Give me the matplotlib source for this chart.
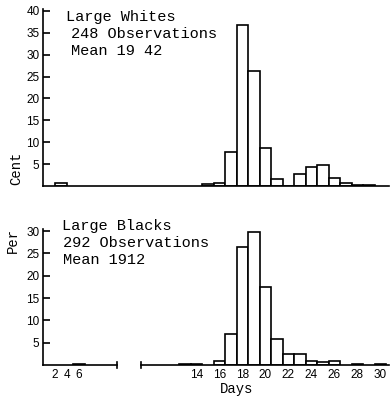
import numpy as np
import matplotlib
matplotlib.use("Agg")
import matplotlib.pyplot as plt
import matplotlib.transforms as mtransforms

# ---------------- data ----------------
top_days = [3, 15, 16, 17, 18, 19, 20, 21, 22, 23, 24, 25, 26, 27, 28, 29]
top_pct = [0.6, 0.4, 0.7, 7.8, 36.8, 26.3, 8.7, 1.7, 0.0, 2.7, 4.3, 4.9, 1.9, 0.6, 0.3, 0.3]

bot_days = [6, 13, 14, 16, 17, 18, 19, 20, 21, 22, 23, 24, 25, 26, 28, 30]
bot_pct = [0.3, 0.3, 0.3, 1.0, 7.0, 26.5, 29.7, 17.5, 5.9, 2.4, 2.4, 1.0, 0.7, 1.0, 0.3, 0.3]

top_title = ["Large Whites", "248 Observations", "Mean 19 42"]
bot_title = ["Large Blacks", "292 Observations", "Mean 1912"]

top_yticks = [5, 10, 15, 20, 25, 30, 35, 40]
bot_yticks = [5, 10, 15, 20, 25, 30]
bot_xticks = [2, 4, 6, 14, 16, 18, 20, 22, 24, 26, 28, 30]
# --------------------------------------

W, H = 390, 396
fig = plt.figure(figsize=(W / 100, H / 100), dpi=100)

# broken day axis: compressed start, gap, then full scale
_bd = [0, 8, 9.3, 40]
_bp = [0, 48, 99.2, 452.2]
fwd = lambda d: np.interp(d, _bd, _bp)
inv = lambda p: np.interp(p, _bp, _bd)

def px_axes(x0, x1, y_top, y_bot):
    return fig.add_axes([x0 / W, 1 - y_bot / H, (x1 - x0) / W, (y_bot - y_top) / H])

mono = "Liberation Mono"
sans = "Liberation Sans"
lw = 1.2

def style(ax, ymax, yticks):
    ax.set_xscale("function", functions=(fwd, inv))
    ax.set_xlim(0, 30.75)
    ax.set_ylim(0, ymax)
    for s in ["top", "right"]:
        ax.spines[s].set_visible(False)
    for s in ["left", "bottom"]:
        ax.spines[s].set_linewidth(lw)
    ax.set_yticks(yticks)
    ax.set_yticklabels([str(t) for t in yticks], fontfamily=sans, fontsize=8.5)
    ax.tick_params(axis="y", direction="in", length=5, width=lw, pad=2.5)
    ax.set_facecolor("none")

def widths(days):
    return [2.0 if d < 9 else 1.0 for d in days]

# top panel
ax1 = px_axes(43, 389, 9, 186)
style(ax1, 40.45, top_yticks)
ax1.bar(top_days, top_pct, width=widths(top_days), color="white",
        edgecolor="black", linewidth=lw)
ax1.set_xticks([])

# bottom panel
ax2 = px_axes(43, 389, 229, 365)
style(ax2, 30.45, bot_yticks)
ax2.bar(bot_days, bot_pct, width=widths(bot_days), color="white",
        edgecolor="black", linewidth=lw)
ax2.spines["bottom"].set_visible(False)
ax2.set_xticks(bot_xticks)
ax2.set_xticklabels([str(t) for t in bot_xticks], fontfamily=sans, fontsize=8.5)
ax2.tick_params(axis="x", length=0, pad=3)

# broken baseline
trans = mtransforms.blended_transform_factory(ax2.transData, ax2.transAxes)
brk_l, brk_r = inv(74), inv(98)
ax2.plot([0, brk_l], [0, 0], color="black", lw=lw, transform=trans, clip_on=False)
ax2.plot([brk_r, 30.75], [0, 0], color="black", lw=lw, transform=trans, clip_on=False)
off = mtransforms.ScaledTranslation(0, 0, fig.dpi_scale_trans)
for b in (brk_l, brk_r):
    ax2.plot([b, b], [-0.025, 0.025], color="black", lw=lw, transform=trans,
             clip_on=False)

# annotations
def ftext(x, y, s, **kw):
    fig.text(x / W, 1 - y / H, s, **kw)

for (x, y), s in zip([(66, 17), (71, 34), (71, 51)], top_title):
    ftext(x, y, s, fontfamily=mono, fontsize=11, va="center", ha="left")
for (x, y), s in zip([(62, 226), (63, 243), (63, 260)], bot_title):
    ftext(x, y, s, fontfamily=mono, fontsize=11, va="center", ha="left")

ftext(237, 389, "Days", fontfamily=mono, fontsize=10, va="center", ha="center")
ftext(16, 168, "Cent", fontfamily=mono, fontsize=10, va="center", ha="center",
      rotation=90)
ftext(13, 240, "Per", fontfamily=mono, fontsize=10, va="center", ha="center",
      rotation=90)

fig.savefig("out.png", dpi=100)
